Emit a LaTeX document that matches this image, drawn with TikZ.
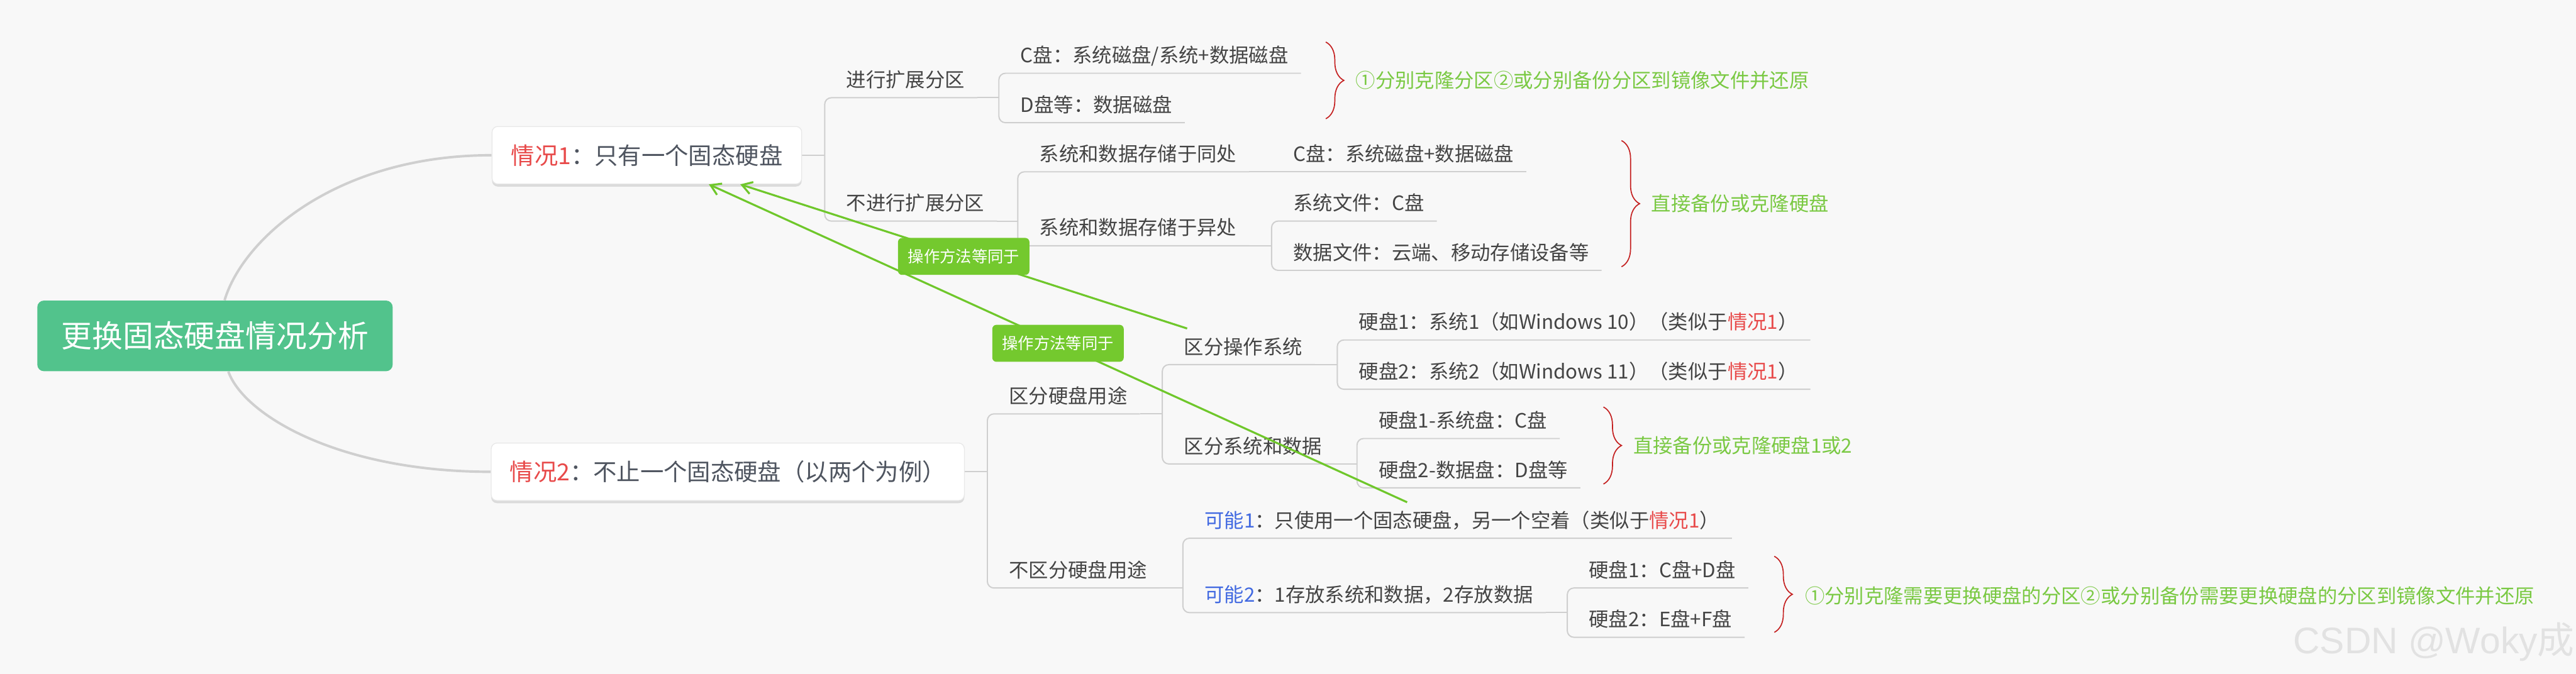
\documentclass[tikz,border=0pt]{standalone}
\usepackage{fontspec}
\setmainfont{Noto Sans CJK SC}
\newfontfamily\wmfont{Liberation Sans}
\usetikzlibrary{arrows.meta,decorations.pathreplacing,calc,backgrounds,shadows}
\definecolor{bgc}{HTML}{F8F8F8}
\definecolor{rootc}{HTML}{52C38C}
\definecolor{linec}{HTML}{CFCFCF}
\definecolor{txtc}{HTML}{444444}
\definecolor{boxtxt}{HTML}{4F5560}
\definecolor{redc}{HTML}{E84A4A}
\definecolor{bluec}{HTML}{4169E1}
\definecolor{notec}{HTML}{7AC943}
\definecolor{bracec}{HTML}{C42020}
\definecolor{relc}{HTML}{6FC72B}
\definecolor{relfill}{HTML}{74C92E}
\definecolor{wmc}{HTML}{E2E2E2}
\begin{document}
\begin{tikzpicture}[x=1pt,y=-1pt,
  conn/.style={draw=linec, line width=0.75pt},
  rootlink/.style={draw=linec, line width=1.5pt},
  rootbox/.style={fill=rootc, rounded corners=4pt, minimum width=216.3pt, minimum height=43pt, inner sep=0pt, text=white, font=\fontsize{18.7}{20}\selectfont, text height=16.46pt, text depth=2.24pt},
  casebox/.style={fill=white, draw=black!9, line width=0.5pt, rounded corners=3.5pt, minimum height=35pt, inner sep=0pt, text=boxtxt, font=\fontsize{14.3}{16}\selectfont, text height=12.58pt, text depth=1.72pt, drop shadow={shadow xshift=0pt, shadow yshift=-1.6pt, fill=black!14, opacity=1}},
  topic/.style={anchor=south west, inner xsep=0pt, inner ysep=4.8pt, text=txtc, font=\fontsize{12}{14}\selectfont, text height=10.56pt, text depth=1.44pt, execute at begin node={\hspace*{13pt}}, execute at end node={\hspace*{7.5pt}}},
  note/.style={anchor=west, inner sep=0pt, text=notec, font=\fontsize{12}{14}\selectfont, text height=10.56pt, text depth=1.44pt},
  bracepath/.style={draw=bracec, line width=0.65pt, decorate, decoration={brace, amplitude=11pt}},
  rel/.style={draw=relc, line width=1.2pt, -{Straight Barb[length=6pt,width=7.5pt]}},
  relbox/.style={fill=relfill, rounded corners=2.5pt, minimum width=80pt, minimum height=22.5pt, inner sep=0pt, text=white, font=\fontsize{9.7}{11}\selectfont, text height=8.54pt, text depth=1.16pt},
]
\useasboundingbox (0,0) rectangle (1568,410.2);

% ---------- main nodes ----------
\node[rootbox] (root) at (130.85,204.5) {更换固态硬盘情况分析};
\node[casebox, minimum width=188.5pt] (c1) at (393.75,94.5) {\textcolor{redc}{情况1}：只有一个固态硬盘};
\node[casebox, minimum width=288pt] (c2) at (443,287.25) {\textcolor{redc}{情况2}：不止一个固态硬盘（以两个为例）};

% ---------- branch of case 1 ----------
\node[topic] (t1) at (502,59.5) {进行扩展分区};
\node[topic] (t2) at (502,134.6) {不进行扩展分区};
\node[topic] (t11) at (608,44.6) {C盘：系统磁盘/系统+数据磁盘};
\node[topic] (t12) at (608,74.7) {D盘等：数据磁盘};
\node[topic] (t21) at (619.5,104.6) {系统和数据存储于同处};
\node[topic] (t22) at (619.5,149.6) {系统和数据存储于异处};
\node[topic] (t211) at (774,104.6) {C盘：系统磁盘+数据磁盘};
\node[topic] (t221) at (774,134.6) {系统文件：C盘};
\node[topic] (t222) at (774,164.6) {数据文件：云端、移动存储设备等};

% ---------- branch of case 2 ----------
\node[topic] (u1) at (601,252) {区分硬盘用途};
\node[topic] (u2) at (601,358) {不区分硬盘用途};
\node[topic] (u11) at (707.5,222) {区分操作系统};
\node[topic] (u12) at (707.5,282.5) {区分系统和数据};
\node[topic] (u111) at (814,207) {硬盘1：系统1（如Windows 10）（类似于\textcolor{redc}{情况1}）};
\node[topic] (u112) at (814,237) {硬盘2：系统2（如Windows 11）（类似于\textcolor{redc}{情况1}）};
\node[topic] (u121) at (826,267) {硬盘1-系统盘：C盘};
\node[topic] (u122) at (826,297) {硬盘2-数据盘：D盘等};
\node[topic] (u21) at (720,327.7) {\textcolor{bluec}{可能1}：只使用一个固态硬盘，另一个空着（类似于\textcolor{redc}{情况1}）};
\node[topic] (u22) at (720,373) {\textcolor{bluec}{可能2}：1存放系统和数据，2存放数据};
\node[topic] (u221) at (954,358) {硬盘1：C盘+D盘};
\node[topic] (u222) at (954,388) {硬盘2：E盘+F盘};

% ---------- braces and notes ----------
\draw[bracepath] (807,25.6) -- (807,72.3);
\node[note] (n1) at (825,49) {①分别克隆分区②或分别备份分区到镜像文件并还原};
\draw[bracepath] (987,85.6) -- (987,162.4);
\node[note] (n2) at (1005,124) {直接备份或克隆硬盘};
\draw[bracepath] (976,247.8) -- (976,294.7);
\node[note] (n3) at (994,271.4) {直接备份或克隆硬盘1或2};
\draw[bracepath] (1080,338.7) -- (1080,385);
\node[note] (n4) at (1098.5,362.6) {①分别克隆需要更换硬盘的分区②或分别备份需要更换硬盘的分区到镜像文件并还原};

% ---------- relations ----------
\draw[rel] ([xshift=15.1pt,yshift=22pt]u11.south west) -- node[relbox, midway] (r1) {操作方法等同于} ([xshift=56.85pt]c1.south);
\draw[rel] ([xshift=30.5pt,yshift=-8.8pt]u122.south west) -- node[relbox, midway] (r2) {操作方法等同于} ([xshift=37.75pt]c1.south);

% ---------- watermark ----------
\node[anchor=base west, inner sep=0pt, text=wmc, font=\fontsize{22.5}{25}\selectfont] (wm) at (1395.7,397.9) {{\wmfont CSDN @Woky}成};

% ---------- connectors ----------
\begin{scope}[on background layer]
\fill[bgc] (0,0) rectangle (1568,410.2);
\draw[rootlink] ([xshift=5.85pt]root.north) .. controls (148,145) and (205,94.5) .. (c1.west);
\draw[rootlink] ([xshift=8.15pt]root.south) .. controls (148,252) and (205,287.25) .. (c2.west);
% case 1
\draw[conn] (c1.east) -- (c1.east -| t1.south west);
\draw[conn, rounded corners=4pt] (t1.south east) -- (t1.south west) -- (t2.south west) -- (t2.south east);
\draw[conn] (t1.south east) -- (t1.south east -| t11.south west);
\draw[conn, rounded corners=4pt] (t11.south east) -- (t11.south west) -- (t12.south west) -- (t12.south east);
\draw[conn] (t2.south east) -- (t2.south east -| t21.south west);
\draw[conn, rounded corners=4pt] (t21.south east) -- (t21.south west) -- (t22.south west) -- (t22.south east);
\draw[conn] (t21.south east) -- (t211.south west) -- (t211.south east);
\draw[conn] (t22.south east) -- (t22.south east -| t221.south west);
\draw[conn, rounded corners=4pt] (t221.south east) -- (t221.south west) -- (t222.south west) -- (t222.south east);
% case 2
\draw[conn] (c2.east) -- (c2.east -| u1.south west);
\draw[conn, rounded corners=4pt] (u1.south east) -- (u1.south west) -- (u2.south west) -- (u2.south east);
\draw[conn] (u1.south east) -- (u1.south east -| u11.south west);
\draw[conn, rounded corners=4pt] (u11.south east) -- (u11.south west) -- (u12.south west) -- (u12.south east);
\draw[conn] (u11.south east) -- (u11.south east -| u111.south west);
\draw[conn, rounded corners=4pt] (u111.south east) -- (u111.south west) -- (u112.south west) -- (u112.south east);
\draw[conn] (u12.south east) -- (u12.south east -| u121.south west);
\draw[conn, rounded corners=4pt] (u121.south east) -- (u121.south west) -- (u122.south west) -- (u122.south east);
\draw[conn] (u2.south east) -- (u2.south east -| u21.south west);
\draw[conn, rounded corners=4pt] (u21.south east) -- (u21.south west) -- (u22.south west) -- (u22.south east);
\draw[conn] (u22.south east) -- (u22.south east -| u221.south west);
\draw[conn, rounded corners=4pt] (u221.south east) -- (u221.south west) -- (u222.south west) -- (u222.south east);
\end{scope}
\end{tikzpicture}
\end{document}
